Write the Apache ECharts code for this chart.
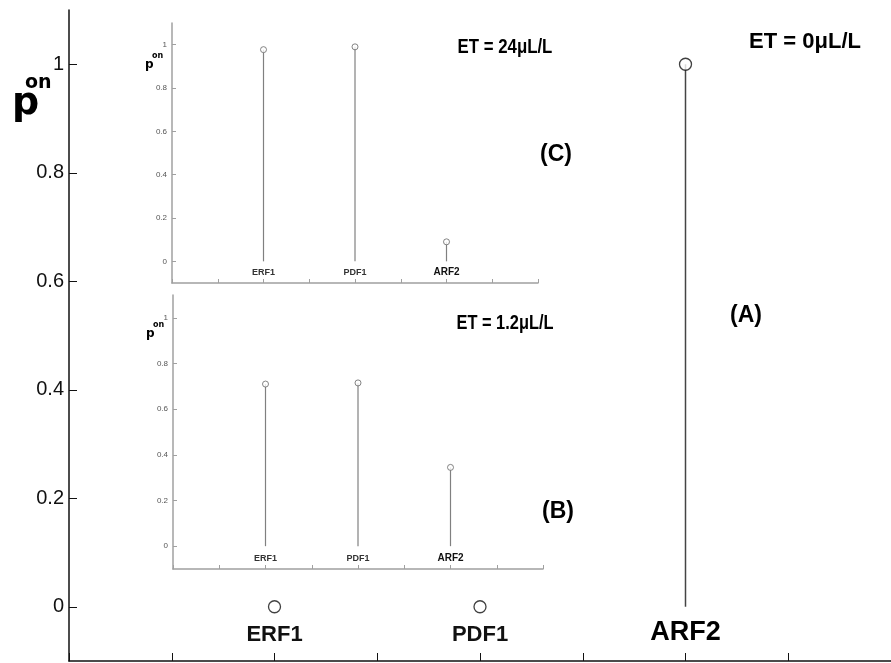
<!DOCTYPE html>
<html>
<head>
<meta charset="utf-8">
<script src="https://cdn.jsdelivr.net/npm/echarts@6/dist/echarts.min.js"></script>
<style>
html,body{margin:0;padding:0;background:#fff;}
#chart{width:891px;height:663px;}
</style>
</head>
<body>
<div id="chart"></div>
<script>
// ---- data ----
const categories = ['ERF1', 'PDF1', 'ARF2'];
const valuesA = [0, 0, 1];          // ET = 0 µL/L (main)
const valuesB = [0.71, 0.715, 0.345]; // ET = 1.2 µL/L (inset B)
const valuesC = [0.977, 0.99, 0.09];  // ET = 24 µL/L (inset C)
const yTickValues = [0, 0.2, 0.4, 0.6, 0.8, 1];
const xMin = 0, xMax = 8;

// category i sits at x = 2*(i+1)
const catX = categories.map((c, i) => 2 * (i + 1));
function pts(vals) { return vals.map((v, i) => [catX[i], v]); }
function catName(v) { const i = catX.indexOf(Math.round(v)); return i >= 0 ? categories[i] : ''; }

const sans = "'Liberation Sans', Arial, sans-serif";

function stemRender(color, width) {
  return function (params, api) {
    const x = api.value(0), y = api.value(1);
    const p0 = api.coord([x, 0]), p1 = api.coord([x, y]);
    return { type: 'line', shape: { x1: p0[0], y1: p0[1], x2: p1[0], y2: p1[1] },
      style: { stroke: color, lineWidth: width } };
  };
}

function makeY(gridIndex, main) {
  return {
    type: 'value', gridIndex: gridIndex, min: -0.1, max: 1.1,
    splitLine: { show: false },
    axisLine: { show: true, lineStyle: { color: main ? '#111' : '#a0a0a0', width: 1.5 } },
    axisTick: { show: true, inside: true, length: main ? 8 : 4, customValues: yTickValues,
      lineStyle: { color: main ? '#111' : '#a0a0a0', width: 1 } },
    axisLabel: { customValues: yTickValues, margin: main ? 5 : 5,
      formatter: v => String(+(+v).toFixed(1)),
      color: main ? '#111' : '#555', fontSize: main ? 20 : 8, fontFamily: sans }
  };
}

function makeX(gridIndex, main) {
  return {
    type: 'value', gridIndex: gridIndex, min: xMin, max: xMax, interval: 1,
    position: 'bottom',
    splitLine: { show: false },
    axisLine: { show: true, onZero: false, lineStyle: { color: main ? '#111' : '#a0a0a0', width: 1.5 } },
    axisTick: { show: true, inside: true, length: main ? 8 : 4,
      lineStyle: { color: main ? '#111' : '#a0a0a0', width: 1 } },
    axisLabel: {
      customValues: catX, inside: true, margin: main ? 15 : 5,
      formatter: v => { const n = catName(v); return n === 'ARF2' ? '{b|' + n + '}' : '{a|' + n + '}'; },
      rich: main ? {
        a: { fontSize: 22, fontWeight: 'bold', fontFamily: sans, color: '#111', lineHeight: 22 },
        b: { fontSize: 27, fontWeight: 'bold', fontFamily: sans, color: '#000', lineHeight: 27 }
      } : {
        a: { fontSize: 9, fontWeight: 'bold', fontFamily: sans, color: '#333', lineHeight: 10 },
        b: { fontSize: 10, fontWeight: 'bold', fontFamily: sans, color: '#111', lineHeight: 11 }
      }
    }
  };
}

const chart = echarts.init(document.getElementById('chart'), null, { renderer: 'canvas' });

function textEl(str, x, y, font, align, sx) {
  return { type: 'text', x: x, y: y, z: 100, scaleX: sx || 1,
    style: { text: str, font: font, fill: '#000', textAlign: align || 'center', textVerticalAlign: 'middle' } };
}

const option = {
  backgroundColor: '#fff',
  animation: false,
  grid: [
    { left: 69, top: 10, width: 827, height: 651 },   // main (A)
    { left: 172, top: 23, width: 366, height: 260 },  // inset C
    { left: 173, top: 295, width: 370, height: 274 }  // inset B
  ],
  xAxis: [makeX(0, true), makeX(1, false), makeX(2, false)],
  yAxis: [makeY(0, true), makeY(1, false), makeY(2, false)],
  series: [
    { type: 'custom', xAxisIndex: 0, yAxisIndex: 0, data: pts(valuesA), renderItem: stemRender('#444', 1.5),
      encode: { x: 0, y: 1 }, clip: false, z: 2 },
    { type: 'scatter', xAxisIndex: 0, yAxisIndex: 0, data: pts(valuesA), symbol: 'circle', symbolSize: 12,
      itemStyle: { color: '#fff', borderColor: '#111', borderWidth: 1.3 }, z: 3 },
    { type: 'custom', xAxisIndex: 1, yAxisIndex: 1, data: pts(valuesC), renderItem: stemRender('#808080', 1.2),
      encode: { x: 0, y: 1 }, clip: false, z: 2 },
    { type: 'scatter', xAxisIndex: 1, yAxisIndex: 1, data: pts(valuesC), symbol: 'circle', symbolSize: 6,
      itemStyle: { color: '#fff', borderColor: '#666', borderWidth: 1 }, z: 3 },
    { type: 'custom', xAxisIndex: 2, yAxisIndex: 2, data: pts(valuesB), renderItem: stemRender('#808080', 1.2),
      encode: { x: 0, y: 1 }, clip: false, z: 2 },
    { type: 'scatter', xAxisIndex: 2, yAxisIndex: 2, data: pts(valuesB), symbol: 'circle', symbolSize: 6,
      itemStyle: { color: '#fff', borderColor: '#666', borderWidth: 1 }, z: 3 }
  ],
  graphic: [
    // main y-axis name p^on
    textEl('p', 12, 104, "bold 38px 'DejaVu Sans', sans-serif", 'left'),
    textEl('on', 25, 83, "bold 19px 'DejaVu Sans', sans-serif", 'left'),
    // inset C y name
    textEl('p', 145, 65, "bold 12px 'DejaVu Sans', sans-serif", 'left'),
    textEl('on', 152, 56, "bold 8px 'DejaVu Sans', sans-serif", 'left'),
    // inset B y name
    textEl('p', 146, 334, "bold 12px 'DejaVu Sans', sans-serif", 'left'),
    textEl('on', 153, 325, "bold 8px 'DejaVu Sans', sans-serif", 'left'),
    // annotations
    textEl('ET = 0\u03bcL/L', 805, 42, "bold 22px " + sans),
    textEl('ET = 24\u03bcL/L', 505, 47, "bold 21px " + sans, 'center', 0.8),
    textEl('ET = 1.2\u03bcL/L', 505, 323, "bold 21px " + sans, 'center', 0.78),
    textEl('(C)', 556, 155, "bold 23px " + sans),
    textEl('(A)', 746, 316, "bold 23px " + sans),
    textEl('(B)', 558, 512, "bold 23px " + sans)
  ]
};
chart.setOption(option);
</script>
</body>
</html>
